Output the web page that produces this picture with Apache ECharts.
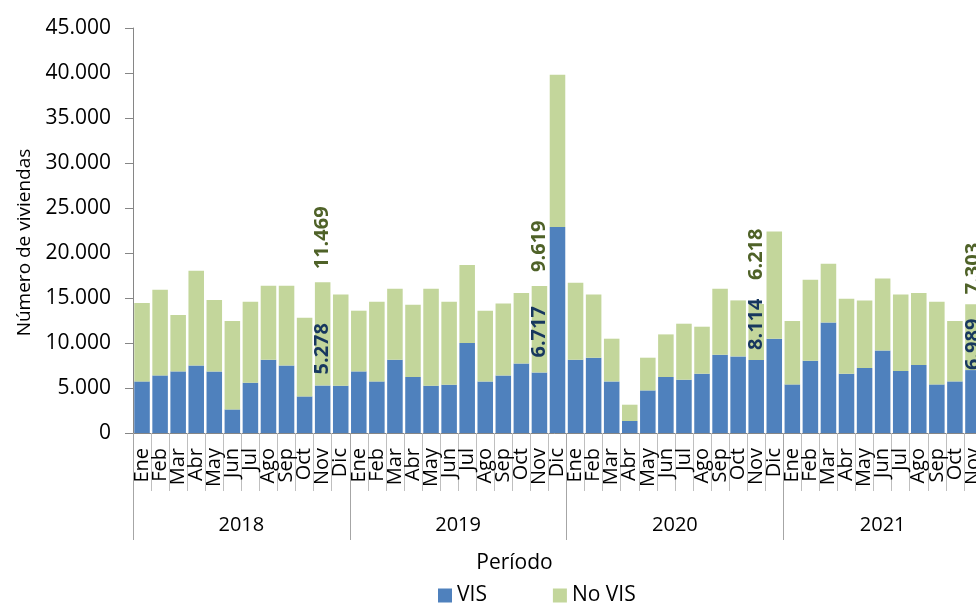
<!DOCTYPE html>
<html>
<head>
<meta charset="utf-8">
<script src="https://cdn.jsdelivr.net/npm/echarts@6/dist/echarts.min.js"></script>
<style>
  html, body { margin: 0; padding: 0; background: #fff; }
  #chart { width: 976px; height: 603px; }
</style>
</head>
<body>
<div id="chart"></div>
<script>
// Monthly housing units, split into VIS and No VIS, Jan 2018 - Nov 2021
const months = ['Ene', 'Feb', 'Mar', 'Abr', 'May', 'Jun', 'Jul', 'Ago', 'Sep', 'Oct', 'Nov', 'Dic'];
const years = ['2018', '2019', '2020', '2021'];
const monthsPerYear = [12, 12, 12, 11];

const visValues = [
  5733, 6400, 6844, 7511, 6844, 2622, 5589, 8144, 7511, 4067, 5278, 5256,
  6844, 5733, 8144, 6222, 5256, 5367, 10000, 5733, 6400, 7733, 6717, 22889,
  8144, 8367, 5733, 1333, 4733, 6222, 5922, 6589, 8700, 8511, 8114, 10478,
  5400, 8033, 12289, 6589, 7222, 9178, 6889, 7556, 5400, 5733, 6989
];
const noVisValues = [
  8711, 9522, 6267, 10522, 7934, 9822, 9000, 8223, 8856, 8744, 11469, 10144,
  6745, 8856, 7889, 8034, 10777, 9222, 8667, 7856, 8000, 7823, 9619, 16922,
  8556, 7033, 4745, 1811, 3634, 4734, 6222, 5222, 7333, 6222, 6218, 11922,
  7044, 9000, 6522, 8333, 7511, 8000, 8511, 8000, 9189, 6711, 7303
];
// Value labels are written on November of each year
const labeledMonth = 'Nov';
// Gap (px) between each labelled segment and its value label, one per year
const visLabelGap = [11, 15, 10, 0];
const noVisLabelGap = [13, 14, 24, 10];

const yTickValues = [0, 5000, 10000, 15000, 20000, 25000, 30000, 35000, 40000, 45000];

// Build category keys "year|month"
const categories = [];
const yearStartIdx = [];
const yearLabelIdx = {};
years.forEach((y, yi) => {
  yearStartIdx.push(categories.length);
  const n = monthsPerYear[yi];
  yearLabelIdx[categories.length + Math.floor((n - 1) / 2)] = { year: y, even: n % 2 === 0 };
  for (let m = 0; m < n; m++) categories.push(y + '|' + months[m]);
});

function fmt(v) {
  return String(Math.round(v)).replace(/\B(?=(\d{3})+(?!\d))/g, '.');
}

const FONT = '"Open Sans", "Noto Sans", sans-serif';

function withLabels(values, color, gaps) {
  return values.map((v, i) => {
    const [yr, mo] = categories[i].split('|');
    if (mo !== labeledMonth) return v;
    return {
      value: v,
      label: {
        show: true,
        position: 'top',
        rotate: 90,
        align: 'left',
        verticalAlign: 'middle',
        distance: gaps[years.indexOf(yr)],
        color: color,
        fontFamily: FONT,
        fontSize: 20,
        fontWeight: 'bold',
        formatter: (p) => fmt(p.value)
      }
    };
  });
}

const chart = echarts.init(document.getElementById('chart'), null, { renderer: 'canvas' });

chart.setOption({
  animation: false,
  backgroundColor: '#ffffff',
  textStyle: { fontFamily: FONT },
  grid: { left: 133, top: 28, width: 849, height: 405, containLabel: false, outerBoundsMode: 'none' },
  legend: {
    left: 433,
    top: 580,
    itemWidth: 14,
    itemHeight: 14,
    itemGap: 66,
    icon: 'rect',
    textStyle: { fontFamily: FONT, fontSize: 21, color: '#000' },
    data: ['VIS', 'No VIS']
  },
  xAxis: [
    {
      type: 'category',
      data: categories,
      boundaryGap: true,
      axisLine: { show: true, lineStyle: { color: '#868686', width: 1 } },
      axisTick: { show: true, interval: 0, length: 58, lineStyle: { color: '#BFBFBF' } },
      axisLabel: {
        interval: 0,
        rotate: 90,
        margin: 15,
        fontFamily: FONT,
        fontSize: 20,
        color: '#000',
        formatter: (v) => v.split('|')[1]
      },
      splitLine: { show: false }
    },
    {
      type: 'category',
      data: categories,
      position: 'bottom',
      boundaryGap: true,
      axisLine: { show: false },
      axisTick: {
        show: true,
        length: 107,
        interval: (i) => yearStartIdx.indexOf(i) >= 0,
        lineStyle: { color: '#A6A6A6' }
      },
      axisLabel: {
        interval: (i) => yearLabelIdx[i] !== undefined,
        margin: 82,
        fontFamily: FONT,
        fontSize: 20,
        color: '#000',
        formatter: (v, i) => {
          const info = yearLabelIdx[i];
          if (!info) return '';
          return info.even ? '{e|' + info.year + '}' : '{o|' + info.year + '}';
        },
        rich: {
          e: { fontFamily: FONT, fontSize: 20, color: '#000', padding: [0, 0, 0, 18] },
          o: { fontFamily: FONT, fontSize: 20, color: '#000' }
        }
      },
      name: 'Período',
      nameLocation: 'middle',
      nameGap: 120,
      nameTextStyle: { fontFamily: FONT, fontSize: 21, color: '#000', padding: [0, 86, 0, 0] },
      splitLine: { show: false }
    }
  ],
  yAxis: {
    type: 'value',
    min: yTickValues[0],
    max: yTickValues[yTickValues.length - 1],
    interval: yTickValues[1] - yTickValues[0],
    axisLine: { show: true, lineStyle: { color: '#868686' } },
    axisTick: { show: true, length: 8, inside: false, lineStyle: { color: '#868686' } },
    axisLabel: { margin: 22, fontFamily: FONT, fontSize: 21, color: '#000', formatter: fmt },
    splitLine: { show: false },
    name: 'Número de viviendas',
    nameLocation: 'middle',
    nameGap: 96,
    nameTextStyle: { fontFamily: FONT, fontSize: 19, color: '#000', padding: [0, 24, 0, 0] }
  },
  series: [
    {
      name: 'VIS',
      type: 'bar',
      stack: 'total',
      barCategoryGap: '14%',
      itemStyle: { color: '#4F81BD' },
      data: withLabels(visValues, '#17375E', visLabelGap)
    },
    {
      name: 'No VIS',
      type: 'bar',
      stack: 'total',
      barCategoryGap: '14%',
      itemStyle: { color: '#C3D69B' },
      data: withLabels(noVisValues, '#4F6228', noVisLabelGap)
    }
  ]
});
</script>
</body>
</html>
